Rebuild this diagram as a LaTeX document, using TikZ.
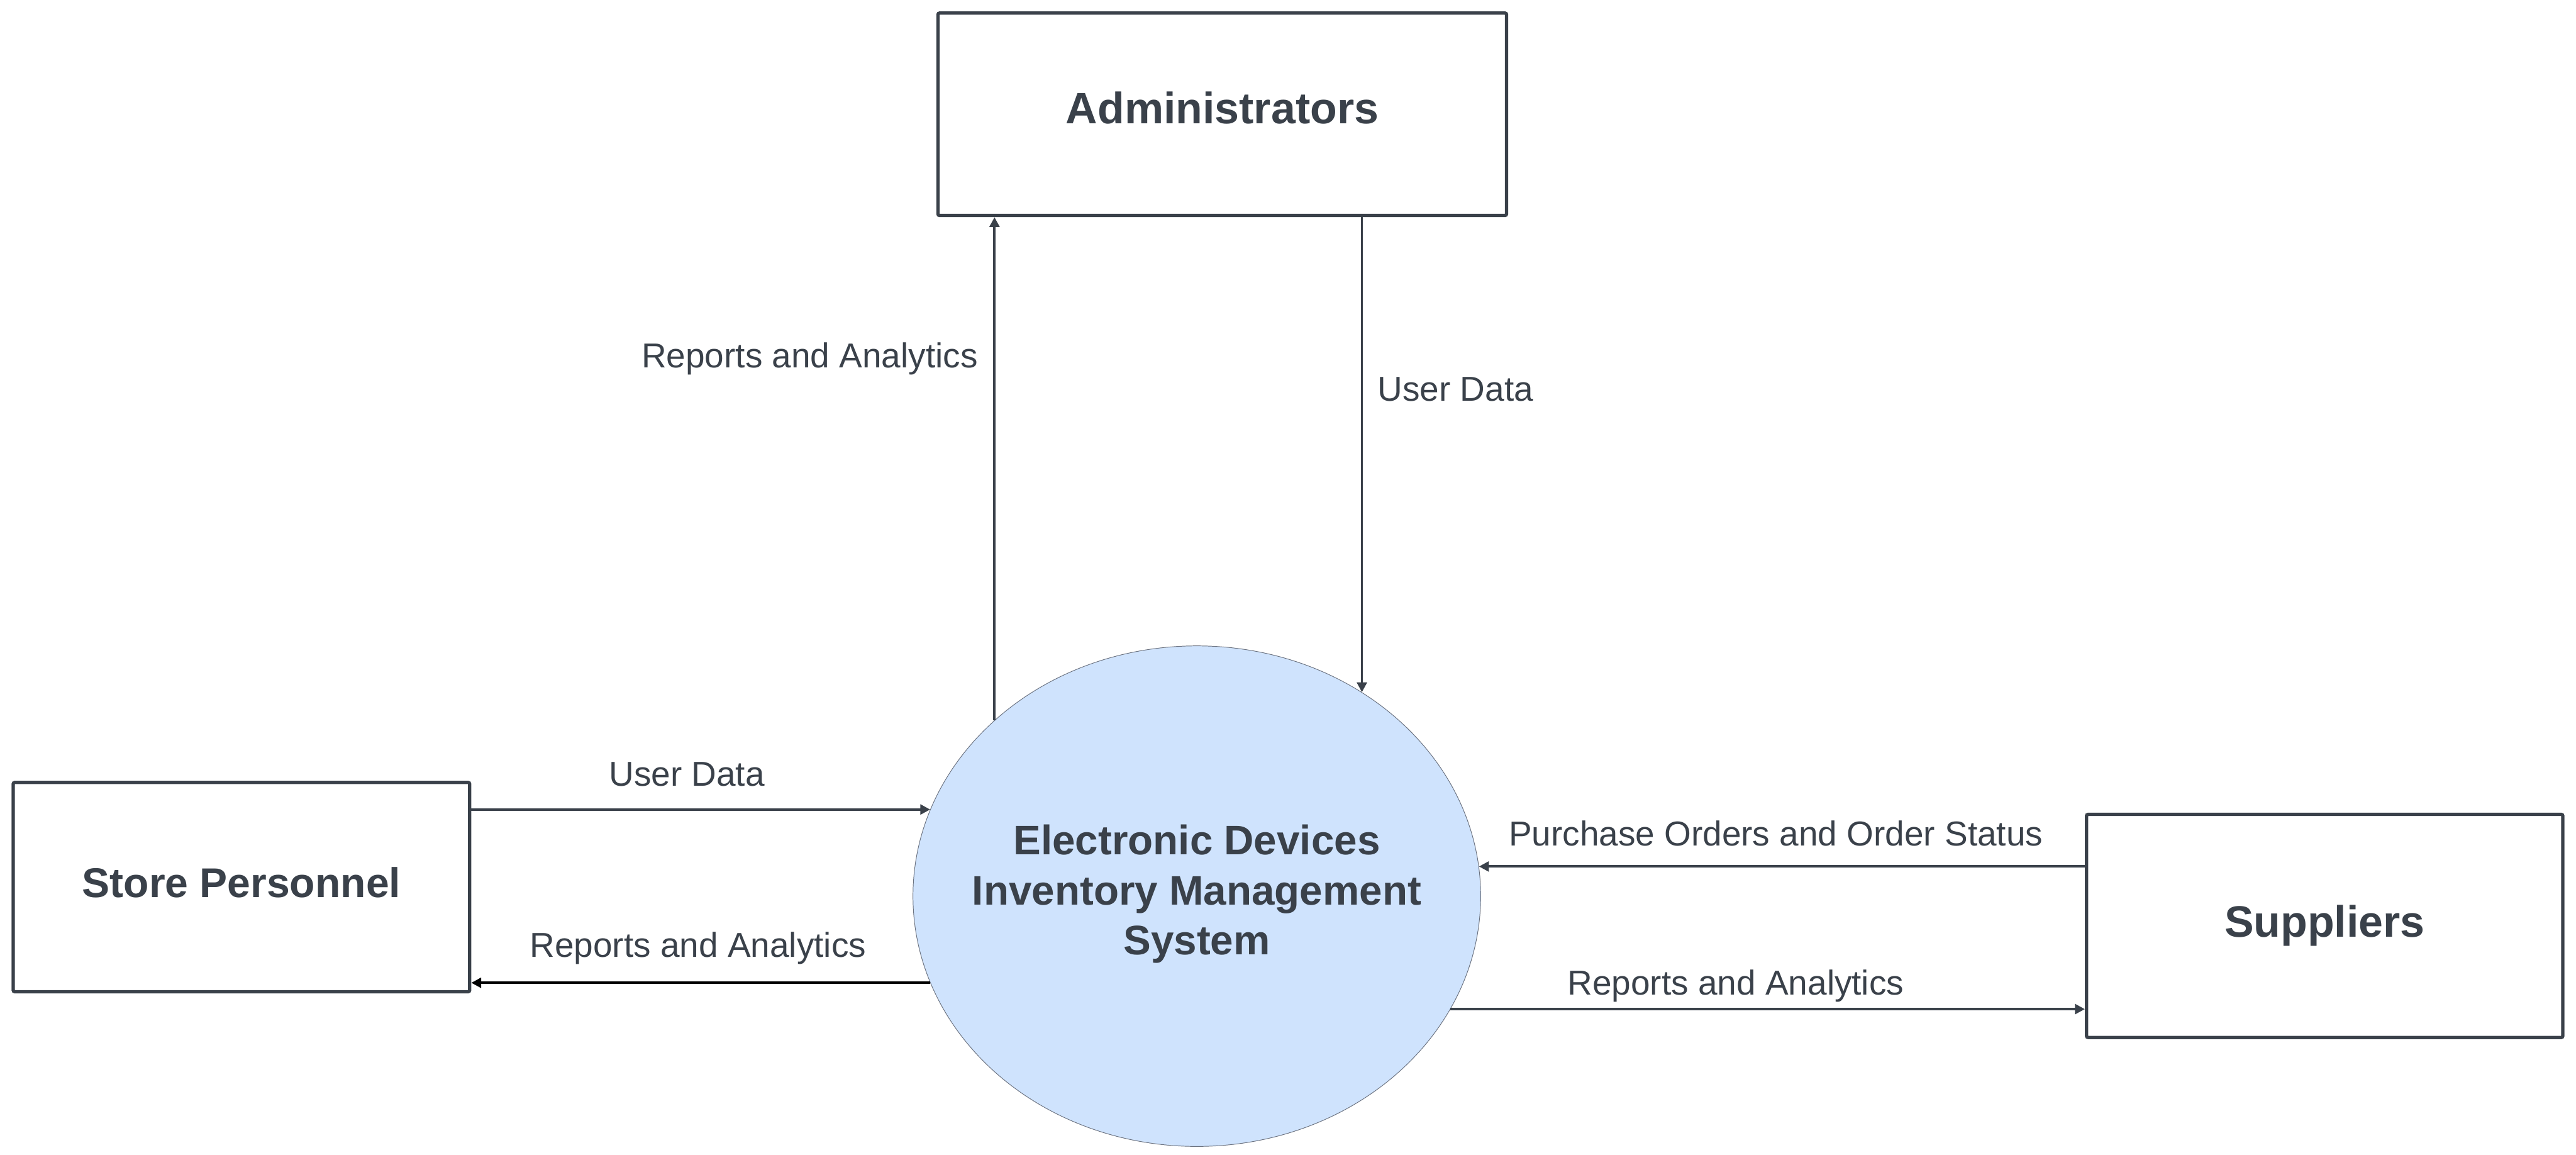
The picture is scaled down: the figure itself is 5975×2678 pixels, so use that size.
\documentclass[tikz,border=0pt]{standalone}
\usepackage{fontspec}
\setmainfont{Liberation Sans}
\usetikzlibrary{shapes.geometric,arrows.meta}
\definecolor{ink}{HTML}{3A414A}
\definecolor{bubble}{HTML}{CFE3FD}
\definecolor{rim}{HTML}{6B7280}
\begin{document}
\begin{tikzpicture}[x=0.01cm,y=-0.01cm,
	entity/.style={draw=ink,line width=2.2pt,rounded corners=1pt,fill=white,
		font=\fontsize{29}{34}\selectfont\bfseries,text=ink,inner sep=0pt},
	process/.style={ellipse,draw=rim,line width=0.4pt,fill=bubble,
		font=\fontsize{27.2}{32.9}\selectfont\bfseries,text=ink,align=center,inner xsep=-1cm,inner ysep=0pt},
	flow/.style={draw=ink,line width=1.6pt,-{Triangle[length=6.5pt,width=6.5pt]}},
	lbl/.style={font=\fontsize{22.8}{27}\selectfont,text=ink,inner sep=0pt}]
	\useasboundingbox (0,0) rectangle (5975,2678);
	% external entities and the process
	\node[entity,minimum width=13.18cm,minimum height=4.69cm,text depth=0.3cm] (admin) at (2835,265) {Administrators};
	\node[entity,minimum width=10.58cm,minimum height=4.85cm,text depth=0.22cm,
		font=\fontsize{27.4}{32}\selectfont\bfseries] (store) at (560,2057) {Store Personnel};
	\node[entity,minimum width=11.04cm,minimum height=5.17cm] (supp) at (5392,2147) {Suppliers};
	\node[process,minimum width=13.16cm,minimum height=11.60cm] (sys) at (2776,2078)
		{Electronic Devices\\Inventory Management\\System\rule[-0.3cm]{0pt}{0pt}};
	% data flows
	\draw[flow] (sys.139.7) -- (sys.139.7 |- admin.south);
	\draw[flow] (admin.south -| sys.51.5) -- (sys.51.5);
	\draw[flow] (store.east |- sys.162.6) -- (sys.162.6);
	\draw[flow,draw=black] (sys.198.4) -- (sys.198.4 -| store.east);
	\draw[flow] (supp.west |- sys.6.4) -- (sys.6.4);
	\draw[flow] (sys.336.4) -- (sys.336.4 -| supp.west);
	% flow labels
	\node[lbl] (repadmin) at (1878,832) {Reports and Analytics};
	\node[lbl] (useradmin) at (3376,903) {User Data};
	\node[lbl] (userstore) at (1593,1795) {User Data};
	\node[lbl] (repstore) at (1619,2198) {Reports and Analytics};
	\node[lbl] (ordsupp) at (4119,1932) {Purchase Orders and Order Status};
	\node[lbl] (repsupp) at (4026,2286) {Reports and Analytics};
\end{tikzpicture}
\end{document}
